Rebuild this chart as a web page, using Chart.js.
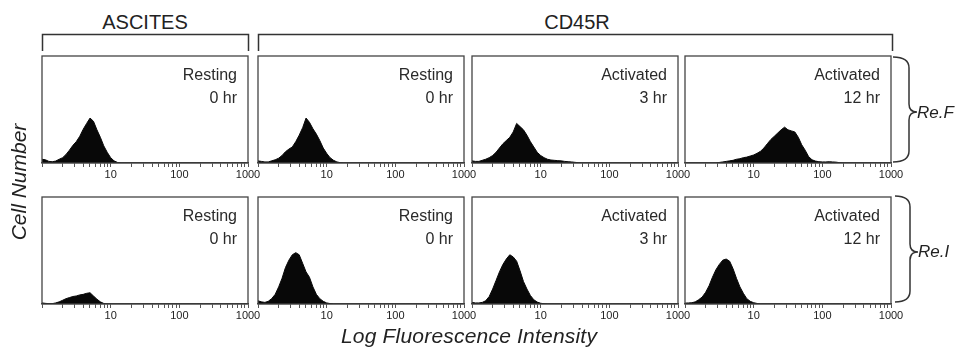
<!DOCTYPE html>
<html>
<head>
<meta charset="utf-8">
<script src="https://cdn.jsdelivr.net/npm/chart.js@4.4.1/dist/chart.umd.min.js"></script>
<style>
  html, body { margin: 0; padding: 0; background: #fff; }
  #fig { position: relative; width: 956px; height: 349px; overflow: hidden;
         font-family: "Liberation Sans", Arial, sans-serif; color: #222; }
  #fig canvas { position: absolute; }
  #fig svg { position: absolute; left: 0; top: 0; }
  .cond { position: absolute; font-size: 16px; line-height: 20px; text-align: right; white-space: nowrap; color: #2a2a2a; }
  .head { position: absolute; font-size: 20px; line-height: 24px; white-space: nowrap; transform: translateX(-50%); }
  .ital { position: absolute; font-style: italic; white-space: nowrap; color: #222; }
</style>
</head>
<body>
<div id="fig">
  <svg width="956" height="349">
    <g fill="none" stroke="#333" stroke-width="1.5">
      <!-- group brackets -->
      <path d="M42.5,51 V34.5 H248.5 V51" />
      <path d="M258.5,51 V34.5 H892.5 V51" />
      <!-- row braces -->
      <path d="M893,57 Q909,57 909,68 L909,104 Q909,112 917,112 Q909,112 909,120 L909,151 Q909,162 893,162" />
      <path d="M895,196 Q910,196 910,207 L910,244 Q910,252 918,252 Q910,252 910,260 L910,291 Q910,302 895,302" />
    </g>
  </svg>
</div>
<script>
// channel bins (log spaced, 20 per decade)
const bins = [
  1.00, 1.12, 1.26, 1.41, 1.58, 1.78, 2.00, 2.24, 2.51, 2.82,
  3.16, 3.55, 3.98, 4.47, 5.01, 5.62, 6.31, 7.08, 7.94, 8.91,
  10.0, 11.2, 12.6, 14.1, 15.8, 17.8, 20.0, 22.4, 25.1, 28.2,
  31.6, 35.5, 39.8, 44.7, 50.1, 56.2, 63.1, 70.8, 79.4, 89.1,
  100, 112, 126, 141, 158, 178, 200, 224, 251, 282,
  316, 355, 398, 447, 501, 562, 631, 708, 794, 891,
  1000
];
const tickMarks = [1, 2, 3, 4, 5, 6, 7, 8, 9, 10, 20, 30, 40, 50, 60, 70, 80, 90,
  100, 200, 300, 400, 500, 600, 700, 800, 900, 1000];
const tickLabels = [10, 100, 1000];

const groups = ['ASCITES', 'CD45R'];
const rowNames = ['Re.F', 'Re.I'];
const conditions = ['Resting', 'Resting', 'Activated', 'Activated'];
const times = ['0 hr', '0 hr', '3 hr', '12 hr'];

// cell counts per bin (percent of panel height)
const ascitesReF = [
  3.5, 3, 1.5, 1.2, 1.8, 3.5, 5, 8, 12, 16.5,
  20, 25, 31.5, 37, 42, 39, 31, 24, 16, 10,
  5, 2, 0.5, 0, 0, 0, 0, 0, 0, 0,
  0, 0, 0, 0, 0, 0, 0, 0, 0, 0,
  0, 0, 0, 0, 0, 0, 0, 0, 0, 0,
  0, 0, 0, 0, 0, 0, 0, 0, 0, 0,
  0
];
const restingReF = [
  2, 1.5, 1, 1, 2, 3, 4.5, 7, 10.5, 13,
  15, 20, 26, 33, 42, 38, 32, 27, 21, 14,
  9, 5, 2.5, 1, 0.3, 0, 0, 0, 0, 0,
  0, 0, 0, 0, 0, 0, 0, 0, 0, 0,
  0, 0, 0, 0, 0, 0, 0, 0, 0, 0,
  0, 0, 0, 0, 0, 0, 0, 0, 0, 0,
  0
];
const act3ReF = [
  2, 1.5, 1.5, 2.5, 3.5, 5, 7, 10, 14, 18,
  21, 24, 29, 37, 34, 31, 26, 20, 15, 10,
  7, 5, 3.5, 2.8, 2.5, 2.2, 2, 1.5, 1.2, 1,
  0.6, 0.3, 0, 0, 0, 0, 0, 0, 0, 0,
  0, 0, 0, 0, 0, 0, 0, 0, 0, 0,
  0, 0, 0, 0, 0, 0, 0, 0, 0, 0,
  0
];
const act12ReF = [
  0, 0, 0, 0, 0, 0, 0, 0, 0, 0,
  0.5, 1, 1.5, 2, 2.5, 3.5, 4, 5, 5.5, 6.5,
  7.5, 9, 11, 14, 18, 22, 25, 28, 31, 33.5,
  31, 30, 29, 24, 17, 12, 6, 3, 1.8, 1.2,
  1, 1, 1.2, 1, 0.8, 0.3, 0, 0, 0, 0,
  0, 0, 0, 0, 0, 0, 0, 0, 0, 0,
  0
];
const ascitesReI = [
  1, 0.6, 0.3, 0.3, 1, 2, 3.5, 5, 6, 7,
  7.5, 8.5, 9, 10, 10.5, 7.5, 4.5, 2, 0.5, 0,
  0, 0, 0, 0, 0, 0, 0, 0, 0, 0,
  0, 0, 0, 0, 0, 0, 0, 0, 0, 0,
  0, 0, 0, 0, 0, 0, 0, 0, 0, 0,
  0, 0, 0, 0, 0, 0, 0, 0, 0, 0,
  0
];
const restingReI = [
  3, 2, 1.5, 2.5, 5, 9, 16, 24, 34, 41,
  46, 48, 46, 38, 30, 25, 16, 9, 5, 2.5,
  1, 0.4, 0, 0, 0, 0, 0, 0, 0, 0,
  0, 0, 0, 0, 0, 0, 0, 0, 0, 0,
  0, 0, 0, 0, 0, 0, 0, 0, 0, 0,
  0, 0, 0, 0, 0, 0, 0, 0, 0, 0,
  0
];
const act3ReI = [
  1.5, 1, 1, 1.5, 3, 7, 14, 22, 30, 37,
  42, 46, 44, 40, 31, 21, 14, 8, 4, 1.8,
  0.7, 0.2, 0, 0, 0, 0, 0, 0, 0, 0,
  0, 0, 0, 0, 0, 0, 0, 0, 0, 0,
  0, 0, 0, 0, 0, 0, 0, 0, 0, 0,
  0, 0, 0, 0, 0, 0, 0, 0, 0, 0,
  0
];
const act12ReI = [
  0.8, 1, 1.2, 2, 4, 6.5, 11, 17, 25, 32,
  37, 41, 42, 40, 33, 24, 16, 10, 5, 2.5,
  1.2, 0.5, 0, 0, 0, 0, 0, 0, 0, 0,
  0, 0, 0, 0, 0, 0, 0, 0, 0, 0,
  0, 0, 0, 0, 0, 0, 0, 0, 0, 0,
  0, 0, 0, 0, 0, 0, 0, 0, 0, 0,
  0
];

const panels = [
  [ascitesReF, restingReF, act3ReF, act12ReF],
  [ascitesReI, restingReI, act3ReI, act12ReI]
];

// layout (px)
const colLeft = [42, 258, 472, 685];
const rowTop = [56, 197];
const panelW = 206, panelH = 107;
const padX = 16, padTop = 4, axisH = 20;

const fig = document.getElementById('fig');
const FONT = '"Liberation Sans", Arial, sans-serif';

// box round each panel
const frame = {
  id: 'frame',
  afterDatasetsDraw(chart) {
    const a = chart.chartArea, c = chart.ctx;
    c.save();
    c.strokeStyle = '#444';
    c.lineWidth = 1.3;
    c.strokeRect(a.left, a.top, a.right - a.left, a.bottom - a.top);
    c.restore();
  }
};

function addText(cls, text, css) {
  const d = document.createElement('div');
  d.className = cls;
  d.textContent = text;
  Object.assign(d.style, css);
  fig.appendChild(d);
  return d;
}

function makePanel(counts, r, c) {
  const cv = document.createElement('canvas');
  cv.width = panelW + padX * 2;
  cv.height = padTop + panelH + axisH;
  cv.style.left = (colLeft[c] - padX) + 'px';
  cv.style.top = (rowTop[r] - padTop) + 'px';
  fig.appendChild(cv);

  new Chart(cv.getContext('2d'), {
    type: 'line',
    data: {
      datasets: [{
        data: bins.map((b, i) => ({ x: b, y: counts[i] })),
        fill: 'origin',
        backgroundColor: '#080808',
        borderColor: '#080808',
        borderWidth: 1,
        pointRadius: 0,
        tension: 0
      }]
    },
    options: {
      responsive: false,
      animation: false,
      devicePixelRatio: 1,
      layout: { padding: { left: padX, right: padX, top: padTop, bottom: 0 } },
      plugins: { legend: { display: false }, tooltip: { enabled: false } },
      scales: {
        x: {
          type: 'logarithmic',
          min: 1,
          max: 1000,
          afterFit: s => { s.height = axisH; },
          afterBuildTicks: s => { s.ticks = tickMarks.map(v => ({ value: v })); },
          border: { display: true, color: '#444', width: 1.3 },
          grid: { drawOnChartArea: false, drawTicks: true, tickLength: 4, tickColor: '#555' },
          ticks: {
            autoSkip: false,
            maxRotation: 0,
            padding: 1,
            color: '#222',
            font: { family: FONT, size: 11 },
            callback: v => tickLabels.includes(v) ? String(v) : ''
          }
        },
        y: { display: false, min: 0, max: 100 }
      }
    },
    plugins: [frame]
  });

  // condition text, top right of panel
  const right = 956 - (colLeft[c] + panelW - 11);
  addText('cond', conditions[c], { right: right + 'px', top: (rowTop[r] + 9) + 'px' });
  addText('cond', times[c], { right: right + 'px', top: (rowTop[r] + 32) + 'px' });
}

panels.forEach((row, r) => row.forEach((counts, c) => makePanel(counts, r, c)));

// group headers
addText('head', groups[0], { left: '145px', top: '10px' });
addText('head', groups[1], { left: '577px', top: '10px' });

// row names
addText('ital', rowNames[0], { left: '917px', top: '102px', fontSize: '17px', lineHeight: '22px' });
addText('ital', rowNames[1], { left: '918px', top: '241px', fontSize: '17px', lineHeight: '22px' });

// axis titles
addText('ital', 'Log Fluorescence Intensity', {
  left: '469px', top: '324px', fontSize: '21px', lineHeight: '24px',
  letterSpacing: '0.2px', transform: 'translateX(-50%)'
});
addText('ital', 'Cell Number', {
  left: '-81px', top: '170px', width: '200px', textAlign: 'center',
  fontSize: '21px', lineHeight: '24px', transform: 'rotate(-90deg)'
});
</script>
</body>
</html>
